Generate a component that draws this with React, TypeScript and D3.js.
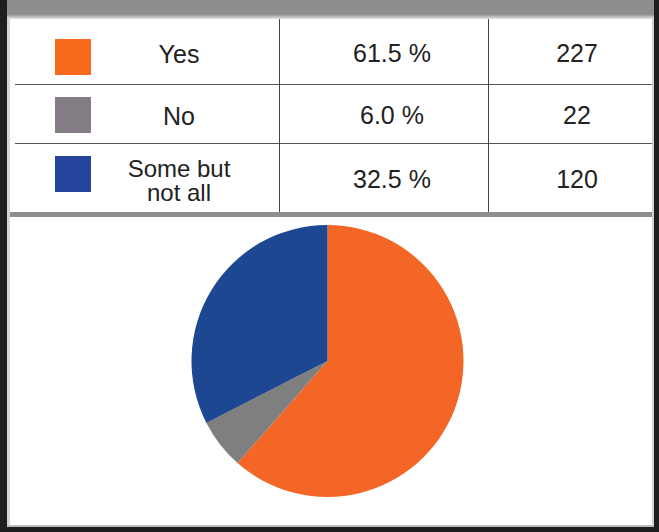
import React from "react";
import * as d3 from "d3";

const categories = ["Yes", "No", "Some but not all"];
const labelLines = [["Yes"], ["No"], ["Some but", "not all"]];
const percents = [61.5, 6.0, 32.5];
const counts = [227, 22, 120];
const pieColors = ["#f36625", "#7f7f7f", "#1d4790"];
const swatchColors = ["#f76a1e", "#857d86", "#24439a"];

const W = 659;
const H = 532;

export default function App() {
  const cx = 327.5;
  const cy = 361;
  const r = 136;
  const pie = d3
    .pie<number>()
    .sort(null)
    .value((d) => d)
    .startAngle(0)
    .endAngle(2 * Math.PI);
  const arcs = pie(counts);
  const arc = d3.arc<d3.PieArcDatum<number>>().innerRadius(0).outerRadius(r);
  const font = "'Liberation Sans', Arial, Helvetica, sans-serif";
  const rowCenters = [57, 115, 174];
  const baselines = [62, 124, 188];
  const rowLines = [84, 143];
  return (
    <svg
      width={W}
      height={H}
      style={{ position: "fixed", left: 0, top: 0, background: "#fff" }}
      fontFamily={font}
    >
      <defs>
        <linearGradient id="hdr" x1="0" y1="0" x2="0" y2="1">
          <stop offset="0" stopColor="#8c8c8c" />
          <stop offset="0.75" stopColor="#8e8e8e" />
          <stop offset="1" stopColor="#e6e6e6" />
        </linearGradient>
      </defs>
      <rect x={0} y={0} width={W} height={H} fill="#fff" />
      <rect x={7} y={0} width={647} height={19} fill="url(#hdr)" />
      {rowLines.map((y, i) => (
        <line key={i} x1={15} x2={652} y1={y + 0.5} y2={y + 0.5} stroke="#555" strokeWidth={1} />
      ))}
      {[279, 488].map((x, i) => (
        <line key={i} x1={x + 0.5} x2={x + 0.5} y1={19} y2={212} stroke="#444" strokeWidth={1} />
      ))}
      <rect x={10} y={212} width={642} height={5} fill="#8e8e8e" />
      {categories.map((c, i) => {
        const yc = rowCenters[i];
        const lines = labelLines[i];
        return (
          <g key={c}>
            <rect x={55} y={yc - 18} width={36} height={36} fill={swatchColors[i]} />
            {lines.length === 1 ? (
              <text x={179} y={baselines[i] + 1} textAnchor="middle" fontSize={25} fill="#222">
                {lines[0]}
              </text>
            ) : (
              <text x={179} y={177} textAnchor="middle" fontSize={24} fill="#222">
                {lines.map((t, j) => (
                  <tspan key={j} x={179} dy={j === 0 ? 0 : 24}>
                    {t}
                  </tspan>
                ))}
              </text>
            )}
            <text x={392} y={baselines[i]} textAnchor="middle" fontSize={25} fill="#222">
              {percents[i].toFixed(1)} %
            </text>
            <text x={577} y={baselines[i]} textAnchor="middle" fontSize={25} fill="#222">
              {counts[i]}
            </text>
          </g>
        );
      })}
      <g transform={`translate(${cx},${cy})`}>
        {arcs.map((a, i) => (
          <path key={i} d={arc(a) || ""} fill={pieColors[i]} />
        ))}
      </g>
      <rect x={0} y={0} width={7} height={H} fill="#1e1e1e" />
      <rect x={7} y={19} width={3} height={508} fill="#d4d4d4" />
      <rect x={654} y={0} width={5} height={H} fill="#1e1e1e" />
      <rect x={652} y={19} width={2} height={508} fill="#cfcfcf" />
      <rect x={7} y={525} width={647} height={2} fill="#bdbdbd" />
      <rect x={0} y={527} width={W} height={5} fill="#1e1e1e" />
    </svg>
  );
}
